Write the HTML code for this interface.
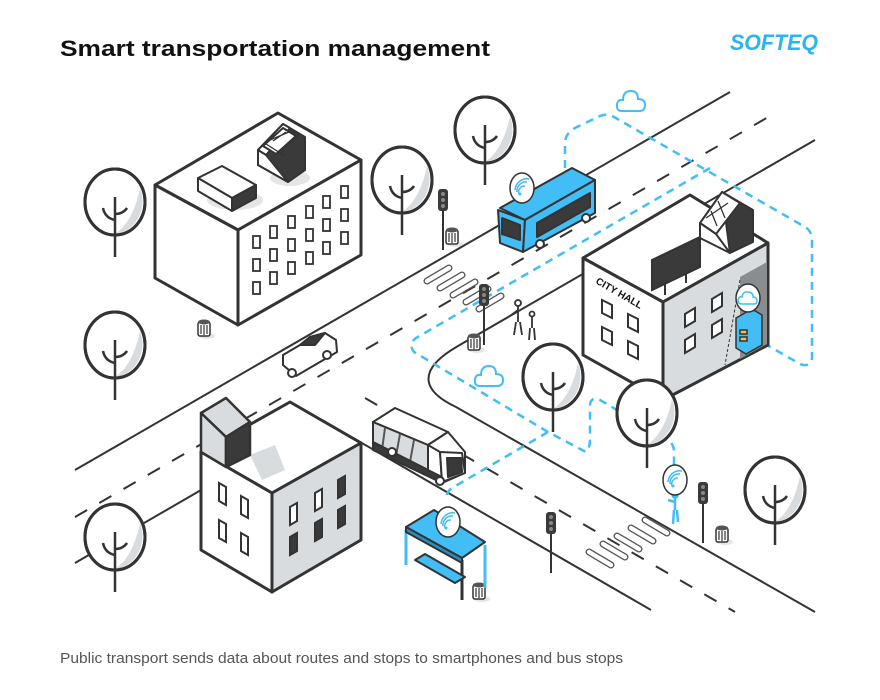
<!DOCTYPE html>
<html><head><meta charset="utf-8"><style>
html,body{margin:0;padding:0;background:#fff;width:880px;height:700px;overflow:hidden}
svg{display:block}
</style></head><body>
<svg width="880" height="700" viewBox="0 0 880 700" xmlns="http://www.w3.org/2000/svg">
<defs>
<g id="tree">
<ellipse cx="0" cy="0" rx="30" ry="33" fill="#fff" stroke="#333" stroke-width="3"/>
<path d="M22,-20 A30,33 0 0 1 -6,31 A30,33 0 0 0 22,-20Z" fill="#d9dcdf"/>
<path d="M25,-14 A30,33 0 0 1 0,32 Q18,20 25,-14Z" fill="#d9dcdf"/>
<ellipse cx="0" cy="0" rx="30" ry="33" fill="none" stroke="#333" stroke-width="3"/>
<path d="M0,-5 L0,55 M0,18 Q-10,16 -12,6 M0,12 Q8,12 12,6" fill="none" stroke="#333" stroke-width="2.5"/>
</g>
<g id="light">
<line x1="0" y1="0" x2="0" y2="55" stroke="#333" stroke-width="2"/>
<rect x="-5" y="-6" width="10" height="22" rx="3" fill="#3a3a3a"/>
<circle cx="0" cy="-1" r="2" fill="#888"/><circle cx="0" cy="5" r="2" fill="#888"/><circle cx="0" cy="11" r="2" fill="#888"/>
</g>
<g id="can">
<ellipse cx="3" cy="14" rx="8" ry="3" fill="#e3e5e7"/>
<rect x="-6" y="0" width="12" height="14" rx="2" fill="#fff" stroke="#333" stroke-width="1.5"/>
<ellipse cx="0" cy="0" rx="6" ry="2.5" fill="#555"/>
<path d="M-3,3V12M0,3V13M3,3V12" stroke="#333" stroke-width="1.2"/>
</g>
<g id="cloud"><path d="M-10,8 Q-16,8 -15,1 Q-14,-4 -9,-3 Q-9,-12 -1,-12 Q6,-12 6,-4 Q13,-4 13,2 Q13,8 7,8 Z" fill="none" stroke="#42bdf5" stroke-width="2"/></g>
<g id="wifi"><ellipse cx="0" cy="0" rx="12" ry="15" fill="#fff" stroke="#333" stroke-width="1.5"/>
<path d="M-3,6 A6,6 0 0 1 3,-2 M-5,4 A9,9 0 0 1 5,-6 M-7,2 A12,12 0 0 1 7,-9" fill="none" stroke="#42bdf5" stroke-width="1.5"/><circle cx="-2" cy="6" r="1.5" fill="#42bdf5"/></g>
</defs>

<text x="60" y="56" font-family="Liberation Sans, sans-serif" font-weight="bold" font-size="22" fill="#111" textLength="430" lengthAdjust="spacingAndGlyphs">Smart transportation management</text>
<text x="730" y="50" font-family="Liberation Sans, sans-serif" font-weight="bold" font-style="italic" font-size="22" fill="#2ab4f0" textLength="88" lengthAdjust="spacingAndGlyphs">SOFTEQ</text>
<text x="60" y="663" font-family="Liberation Sans, sans-serif" font-size="14.5" fill="#555" textLength="563" lengthAdjust="spacingAndGlyphs">Public transport sends data about routes and stops to smartphones and bus stops</text>

<g fill="none" stroke="#333" stroke-width="2">
<line x1="75" y1="470" x2="730" y2="92"/>
<line x1="75" y1="517" x2="770" y2="116" stroke-dasharray="14 14"/>
<line x1="75" y1="563" x2="322" y2="420"/>
<line x1="322" y1="420" x2="651" y2="610"/>
<path d="M815,140 L458,346 C418,369 420,390 456,407 L815,612"/>
<line x1="365" y1="398" x2="735" y2="612" stroke-dasharray="14 14"/>
</g>
<!-- crosswalks -->
<g fill="none" stroke-linecap="round">
<path stroke="#555" stroke-width="7" d="M427,281 l22,-13 M440,288 l22,-13 M453,295 l22,-13 M466,302 l22,-13 M479,309 l22,-13 M589,552 l22,13 M603,544 l22,13 M617,536 l22,13 M631,528 l22,13 M645,520 l22,13"/>
<path stroke="#fff" stroke-width="4.4" d="M427,281 l22,-13 M440,288 l22,-13 M453,295 l22,-13 M466,302 l22,-13 M479,309 l22,-13 M589,552 l22,13 M603,544 l22,13 M617,536 l22,13 M631,528 l22,13 M645,520 l22,13"/>
</g>

<g fill="none" stroke="#42bdf5" stroke-width="2.5" stroke-dasharray="8 6">
<path d="M565,168 L565,142 Q566,132 577,127 L600,116 Q607,113 614,117 L805,227 Q812,231 812,240 L812,358 Q810,368 800,364 L767,345"/>
<path d="M710,168 L416,338 Q408,344 414,352 L548,432 L586,452 Q590,448 590,440 L590,404 Q592,396 600,400 L668,440 Q674,444 674,452 L674,470"/>
<path d="M548,432 L452,488 Q446,492 446,500"/>
</g>
<use href="#cloud" x="632" y="103"/>
<use href="#cloud" x="490" y="378"/>

<g stroke="#333" stroke-width="3" stroke-linejoin="round">
<polygon points="155,185 278,113 361,160 238,230" fill="#fff"/>
<polygon points="155,185 238,230 238,325 155,278" fill="#fff"/>
<polygon points="238,230 361,160 361,255 238,325" fill="#fff"/>
</g>
<g fill="#fff" stroke="#333" stroke-width="1.8">
<rect x="253" y="236" width="7" height="12"/><rect x="270" y="226" width="7" height="12"/><rect x="288" y="216" width="7" height="12"/><rect x="306" y="206" width="7" height="12"/><rect x="323" y="196" width="7" height="12"/><rect x="341" y="186" width="7" height="12"/>
<rect x="253" y="259" width="7" height="12"/><rect x="270" y="249" width="7" height="12"/><rect x="288" y="239" width="7" height="12"/><rect x="306" y="229" width="7" height="12"/><rect x="323" y="219" width="7" height="12"/><rect x="341" y="209" width="7" height="12"/>
<rect x="253" y="282" width="7" height="12"/><rect x="270" y="272" width="7" height="12"/><rect x="288" y="262" width="7" height="12"/><rect x="306" y="252" width="7" height="12"/><rect x="323" y="242" width="7" height="12"/><rect x="341" y="232" width="7" height="12"/>
</g>
<ellipse cx="235" cy="200" rx="28" ry="10" fill="#e3e5e7"/>
<g stroke="#333" stroke-width="2" stroke-linejoin="round">
<polygon points="198,178 222,166 256,185 232,198" fill="#fff"/>
<polygon points="198,178 232,198 232,211 198,191" fill="#fff"/>
<polygon points="232,198 256,185 256,198 232,211" fill="#3a3a3a"/>
</g>
<ellipse cx="290" cy="178" rx="20" ry="8" fill="#e3e5e7"/>
<g stroke="#333" stroke-width="2" stroke-linejoin="round">
<polygon points="283,124 305,137 305,170 288,182 258,165 258,150" fill="#3a3a3a"/>
<polygon points="258,150 283,124 290,128 266,155" fill="#fff"/>
<polygon points="258,150 266,155 288,182 258,165" fill="#fff"/>
<polygon points="263,146 283,128 296,136 276,154" fill="#fff"/>
<path d="M270,140 L289,132 M273,141 L286,132 M266,144 L285,156" stroke-width="1.3"/>
</g>

<g stroke="#333" stroke-width="3" stroke-linejoin="round">
<polygon points="583,258 690,195 768,243 663,302" fill="#fff"/>
<polygon points="583,258 663,302 663,400 583,355" fill="#fff"/>
<polygon points="663,302 768,243 768,345 663,400" fill="#d9dcdf"/>
</g>
<polygon points="740,277 767,262 767,344 740,359" fill="#8a8d90"/>
<line x1="740" y1="280" x2="725" y2="365" stroke="#333" stroke-width="1" stroke-dasharray="3 2"/>
<g fill="#fff" stroke="#333" stroke-width="2">
<polygon points="602,300 612,305 612,318 602,313"/><polygon points="628,314 638,319 638,332 628,327"/>
<polygon points="602,327 612,332 612,345 602,340"/><polygon points="628,341 638,346 638,359 628,354"/>
<polygon points="685,314 695,308 695,321 685,327"/><polygon points="712,299 722,293 722,306 712,312"/>
<polygon points="685,340 695,334 695,347 685,353"/><polygon points="712,325 722,319 722,332 712,338"/>
</g>
<text transform="translate(595,283) rotate(30)" font-family="Liberation Sans, sans-serif" font-weight="bold" font-size="10" fill="#111">CITY HALL</text>
<g stroke="#333" stroke-width="1.5">
<polygon points="736,318 752,309 762,315 762,345 746,354 736,348" fill="#42bdf5"/>
<rect x="740" y="330" width="7" height="4" fill="#f5c242"/><rect x="740" y="337" width="7" height="4" fill="#f5c242"/>
</g>
<ellipse cx="748" cy="298" rx="12" ry="14" fill="#fff" stroke="#333" stroke-width="1.5"/>
<path d="M742,304 Q738,304 738,300 Q739,296 742,297 Q743,291 748,292 Q753,292 753,297 Q757,297 757,301 Q757,304 754,304Z" fill="none" stroke="#42bdf5" stroke-width="1.5"/>
<g stroke="#333" stroke-width="2">
<line x1="665" y1="280" x2="665" y2="295"/><line x1="686" y1="268" x2="686" y2="283"/>
<polygon points="652,260 700,237 700,267 652,290" fill="#3a3a3a"/>
</g>
<g stroke="#333" stroke-width="2" stroke-linejoin="round">
<polygon points="722,192 753,210 753,242 730,253" fill="#3a3a3a"/>
<polygon points="700,223 722,192 740,203 716,234" fill="#fff"/>
<polygon points="700,223 716,234 730,253 700,238" fill="#fff"/>
<path d="M706,218 L728,203 M711,211 L717,226 M718,201 L725,218" stroke-width="1.3"/>
</g>

<g stroke="#333" stroke-width="3" stroke-linejoin="round">
<polygon points="201,452 290,402 361,443 272,493" fill="#fff"/>
<polygon points="201,452 272,493 272,592 201,550" fill="#fff"/>
<polygon points="272,493 361,443 361,540 272,592" fill="#d9dcdf"/>
</g>
<polygon points="250,455 275,445 285,470 262,480" fill="#d9dcdf"/>
<g stroke="#333" stroke-width="2.5" stroke-linejoin="round">
<polygon points="201,413 226,398 250,422 226,437" fill="#d9dcdf"/>
<polygon points="201,413 226,437 226,467 201,452" fill="#d9dcdf"/>
<polygon points="226,437 250,422 250,455 226,467" fill="#3a3a3a"/>
</g>
<g stroke="#333" stroke-width="2">
<polygon points="219,483 226,487 226,505 219,501" fill="#fff"/><polygon points="241,496 248,500 248,518 241,514" fill="#fff"/>
<polygon points="219,520 226,524 226,542 219,538" fill="#fff"/><polygon points="241,533 248,537 248,555 241,551" fill="#fff"/>
<polygon points="290,507 297,503 297,521 290,525" fill="#fff"/><polygon points="315,493 322,489 322,507 315,511" fill="#fff"/><polygon points="338,480 345,476 345,494 338,498" fill="#3a3a3a"/>
<polygon points="290,537 297,533 297,551 290,555" fill="#3a3a3a"/><polygon points="315,523 322,519 322,537 315,541" fill="#3a3a3a"/><polygon points="338,510 345,506 345,524 338,528" fill="#3a3a3a"/>
</g>

<use href="#tree" x="115" y="202"/>
<use href="#tree" x="402" y="180"/>
<use href="#tree" x="485" y="130"/>
<use href="#tree" x="115" y="345"/>
<use href="#tree" x="553" y="377"/>
<use href="#tree" x="647" y="413"/>
<use href="#tree" x="775" y="490"/>
<use href="#tree" x="115" y="537"/>

<use href="#light" x="443" y="195"/>
<use href="#light" x="484" y="290"/>
<use href="#light" x="551" y="518"/>
<use href="#light" x="703" y="488"/>
<use href="#can" x="452" y="230"/>
<use href="#can" x="204" y="322"/>
<use href="#can" x="474" y="336"/>
<use href="#can" x="479" y="585"/>
<use href="#can" x="722" y="528"/>

<g stroke="#333" stroke-width="2" stroke-linejoin="round">
<polygon points="500,208 572,168 595,180 525,220" fill="#42bdf5"/>
<polygon points="498,210 525,220 523,252 500,243" fill="#42bdf5"/>
<polygon points="525,220 595,180 595,213 523,252" fill="#42bdf5"/>
<polygon points="502,218 520,225 520,240 502,234" fill="#3a3a3a"/>
<polygon points="537,223 590,193 590,207 537,237" fill="#3a3a3a"/>
<circle cx="540" cy="244" r="4" fill="#fff"/><circle cx="586" cy="218" r="4" fill="#fff"/>
</g>
<use href="#wifi" x="522" y="188"/>

<g stroke="#333" stroke-width="2" stroke-linejoin="round">
<path d="M283,365 L283,355 L300,345 L310,337 L325,333 L336,340 L337,352 L296,376 Z" fill="#fff"/>
<polygon points="300,345 310,337 325,333 315,345" fill="#3a3a3a"/>
<circle cx="292" cy="373" r="4" fill="#fff"/><circle cx="327" cy="355" r="4" fill="#fff"/>
</g>

<g stroke="#333" stroke-width="2" stroke-linejoin="round">
<polygon points="373,422 395,408 448,432 428,445" fill="#fff"/>
<polygon points="373,422 428,445 428,470 373,442" fill="#d9dcdf"/>
<path d="M385,428 L382,450 M400,434 L396,456 M414,440 L410,462" stroke="#555"/>
<polygon points="428,470 440,476 440,482 373,450 373,442" fill="#3a3a3a"/>
<polygon points="428,445 448,432 465,452 465,473 442,483 440,452" fill="#fff"/>
<polygon points="440,452 462,453 465,473 442,482" fill="#fff"/>
<polygon points="447,458 461,458 462,472 448,477" fill="#3a3a3a"/>
<circle cx="392" cy="452" r="4" fill="#fff"/><circle cx="440" cy="481" r="4" fill="#fff"/>
</g>

<g stroke="#333" stroke-width="2" stroke-linejoin="round">
<line x1="406" y1="530" x2="406" y2="565" stroke="#42bdf5" stroke-width="3"/>
<line x1="485" y1="545" x2="485" y2="588" stroke="#42bdf5" stroke-width="3"/>
<line x1="462" y1="560" x2="462" y2="600" stroke="#333" stroke-width="3"/>
<polygon points="415,560 425,554 465,577 455,583" fill="#42bdf5"/>
<polygon points="406,527 434,510 485,542 462,558" fill="#42bdf5"/>
<polygon points="406,527 462,558 462,563 406,532" fill="#2a8fc0"/>
</g>
<use href="#wifi" x="448" y="522"/>

<g stroke="#333" stroke-width="1.8" fill="#fff">
<circle cx="518" cy="303" r="3"/><path d="M518,306 L518,322 M516,322 L514,335 M520,322 L522,335 M518,310 L510,316"/>
<circle cx="532" cy="314" r="2.5"/><path d="M532,317 L532,328 M530,328 L529,340 M534,328 L535,340"/>
</g>
<g stroke="#42bdf5" stroke-width="2.5" fill="#42bdf5">
<circle cx="675" cy="495" r="2.5"/><path d="M675,498 L675,510 M674,510 L673,524 M677,510 L678,522 M675,502 L668,500"/>
</g>
<use href="#wifi" x="675" y="480"/>
</svg>
</body></html>
